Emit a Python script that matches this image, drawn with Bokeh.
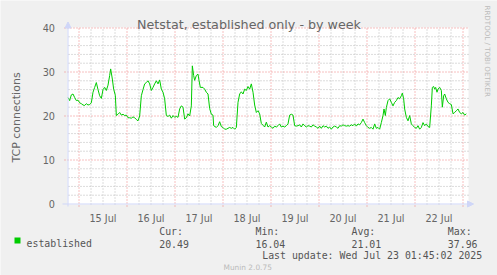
from math import pi
from bokeh.plotting import figure
from bokeh.models import Range1d, FixedTicker, Label, Arrow, NormalHead, BoxAnnotation
from bokeh.embed import file_html
from bokeh.resources import INLINE

# ---- data (hours since 15 Jul 00:00) ----
hours = [-5.5, -4.67, -3.83, -3.0, -2.17, -1.33, -0.5, 0.33, 1.17, 2.0, 2.83, 3.67, 4.5, 5.33,
         6.17, 7.0, 7.83, 8.67, 9.5, 10.33, 11.17, 12.0, 12.83, 13.67, 14.5, 15.33, 15.83, 16.67,
         17.33, 18.17, 18.67, 19.5, 20.33, 21.17, 22.0, 22.83, 23.67, 24.5, 25.33, 26.17, 27.0,
         27.83, 28.67, 29.5, 30.33, 31.17, 32.0, 32.83, 33.67, 34.5, 35.33, 36.17, 37.0, 37.83,
         38.67, 39.5, 40.33, 41.17, 42.0, 42.83, 43.67,
         44.5, 45.33, 46.17, 47.0, 47.83, 48.67, 49.5, 50.33, 51.17, 52.0, 52.83, 53.67, 54.5,
         55.33, 56.17, 56.67, 57.33, 57.83, 58.67, 59.5, 60.0, 60.67, 62.0, 62.83, 63.67, 64.5,
         65.33, 66.17, 67.0, 67.33, 68.67, 69.5, 70.33, 71.17, 72.0, 72.83, 73.67, 74.5, 75.33,
         76.17, 77.0, 77.83, 78.67, 79.5, 80.33, 81.17, 82.0, 82.83, 83.67, 84.5, 85.33, 86.17,
         87.0, 87.83, 88.67, 89.5, 90.33, 91.17, 92.0, 92.83, 93.67,
         94.5, 95.33, 96.17, 97.0, 97.83, 98.67, 99.5, 100.33, 101.17, 102.0, 102.83, 103.67,
         104.5, 105.33, 106.17, 107.0, 107.83, 108.67, 109.5, 110.33, 111.17, 112.0, 112.83,
         113.67, 114.5, 115.33, 116.17, 117.0, 117.83, 118.67, 119.5, 120.33, 121.17, 122.0,
         122.83, 123.67, 124.5, 125.33, 126.17, 127.0, 127.83, 128.67, 129.5, 130.33, 131.17,
         132.0, 132.83, 133.67, 134.5, 135.33, 136.17, 137.0, 137.83, 138.67, 139.5, 140.33,
         141.17, 142.0, 142.83, 143.67,
         144.5, 145.33, 146.17, 147.0, 147.83, 148.67, 149.5, 150.33, 151.17, 152.0, 152.5,
         153.17, 153.67, 154.5, 155.33, 156.17, 157.0, 157.83, 158.67, 159.5, 160.33, 161.17,
         161.67, 162.33, 162.83, 163.67, 164.5, 165.33, 166.17, 167.0, 167.83, 168.67, 169.5,
         170.33, 171.17, 172.0, 172.83, 173.67, 174.5, 175.33, 176.17, 176.67, 177.33, 177.83,
         178.33, 179.0, 179.5, 180.33, 181.17, 181.67, 182.33, 182.83, 183.67, 184.5, 185.33,
         186.17, 187.0, 187.83, 188.67, 189.5, 190.33, 191.17, 192.0, 192.83, 193.67]

established = [24.2, 23.5, 24.8, 25.0, 24.2, 23.5, 23.6, 23.0, 22.8, 22.5, 22.4, 22.8, 22.5, 22.6,
               23.0, 25.4, 26.5, 27.6, 26.0, 24.6, 24.0, 26.0, 26.5, 25.8, 27.0, 29.2, 30.7, 28.4,
               26.1, 24.7, 20.1, 20.4, 20.8, 20.2, 20.4, 20.1, 20.2, 19.6, 19.6, 19.5, 19.8,
               19.6, 19.2, 18.9, 20.0, 24.6, 26.0, 27.3, 27.6, 28.0, 27.3, 25.8, 26.5, 27.3,
               28.0, 27.3, 28.2, 26.1, 25.4, 23.9, 20.1,
               19.9, 20.2, 19.5, 20.1, 19.7, 19.9, 19.7, 21.6, 22.3, 22.0, 19.3, 19.6, 20.5,
               20.0, 22.3, 31.4, 29.2, 28.1, 29.2, 29.5, 28.1, 26.5, 26.5, 26.1, 25.4, 25.0,
               21.7, 20.4, 20.2, 17.8, 17.4, 17.8, 18.7, 17.6, 17.4, 17.0, 17.0, 17.2, 17.4,
               17.2, 17.4, 17.0, 17.4, 23.1, 25.0, 25.5, 25.0, 26.1, 25.8, 26.7, 26.1, 27.3,
               25.4, 22.5, 20.8, 21.2, 20.5, 18.3, 17.9, 17.5, 18.6,
               17.5, 17.8, 17.5, 17.2, 17.7, 17.5, 17.8, 18.2, 17.5, 17.7, 17.5, 17.8,
               18.2, 20.2, 20.4, 20.2, 17.8, 17.7, 17.8, 18.0, 17.5, 18.2, 17.8,
               17.5, 17.8, 17.7, 17.5, 18.0, 17.7, 17.5, 17.2, 17.7, 17.2, 17.8,
               17.5, 17.7, 17.2, 17.5, 17.0, 17.5, 17.7, 17.5, 17.2, 17.8, 17.7,
               18.0, 17.8, 17.7, 17.8, 17.7, 18.0, 17.8, 18.2, 17.7, 18.2, 18.0,
               18.5, 19.3, 18.5, 17.8,
               17.4, 17.2, 17.4, 17.0, 18.2, 17.2, 17.4, 17.0, 18.5, 20.1, 21.6,
               20.1, 21.9, 23.5, 23.9, 23.1, 22.3, 23.1, 23.5, 24.2, 23.9, 24.6,
               25.2, 23.9, 21.6, 19.7, 18.9, 20.1, 18.2, 17.8, 17.4, 17.2, 17.8,
               17.0, 17.4, 18.5, 17.8, 18.2, 17.6, 17.4, 22.3, 26.5, 26.7, 26.1,
               26.5, 25.4, 26.1, 26.5, 25.8, 22.0, 24.6, 25.0, 23.9, 23.1, 22.8,
               22.6, 20.5, 20.8, 21.2, 21.6, 20.8, 20.5, 20.8, 20.2, 20.5]

day_labels = ["15 Jul", "16 Jul", "17 Jul", "18 Jul", "19 Jul", "20 Jul", "21 Jul", "22 Jul"]
label_hours = [12, 36, 60, 84, 108, 132, 156, 180]
midnight_hours = [0, 24, 48, 72, 96, 120, 144, 168, 192]
six_hours = [h for h in range(-6, 196, 6) if h % 24 != 0 and -5.5 < h < 194.5]
y_ticks = [0, 10, 20, 30, 40]
y_minor = [v for v in range(2, 40, 2) if v % 10 != 0]

title_text = "Netstat, established only - by week"
y_label = "TCP connections"
series_name = "established"
stat_names = ["Cur:", "Min:", "Avg:", "Max:"]
stat_values = ["20.49", "16.04", "21.01", "37.96"]
last_update = "Last update: Wed Jul 23 01:45:02 2025"
watermark = "RRDTOOL / TOBI OETIKER"
version = "Munin 2.0.75"

# ---- layout: whole canvas is the frame; plot area ~ x 67..467, y 27..203 ----
# data values land on pixel centres (X.5) so 1px lines stay crisp
W, H = 497, 275
X0, XMIN, XMAX, PXH = 67.5, -5.5, 194.5, 2.0
YB, YMIN, YMAX, PXV = 203.5, 0, 40, 4.4


def cx(X):
    return XMIN + (X - X0) / PXH


def cy(Y):
    return (YB - Y) / PXV


TXT = "#666666"
p = figure(width=W, height=H, title=None,
           x_range=Range1d(cx(0), cx(W)), y_range=Range1d(cy(H), cy(0)),
           output_backend="svg", toolbar_location=None, min_border=0,
           background_fill_color="#F0F0F0", border_fill_color="#F0F0F0",
           outline_line_color=None)
p.xgrid.visible = False
p.ygrid.visible = False

# white canvas of the plot area
p.add_layout(BoxAnnotation(left=cx(67), right=cx(468), bottom=cy(204), top=cy(27),
                           fill_color="#FFFFFF", fill_alpha=1.0, line_color=None,
                           level="image"))

# grid (dotted): minor gray, major red with small outside ticks
GRID = dict(line_width=1, line_dash="1 2")
nv, nh = len(six_hours), len(y_minor)
p.segment(x0=six_hours, y0=[cy(204)] * nv, x1=six_hours, y1=[cy(27)] * nv,
          line_color="#B8B8B8", **GRID)
p.segment(x0=[cx(68)] * nh, y0=y_minor, x1=[cx(468)] * nh, y1=y_minor,
          line_color="#B8B8B8", **GRID)
nm_ = len(midnight_hours)
p.segment(x0=midnight_hours, y0=[cy(206)] * nm_, x1=midnight_hours, y1=[cy(27)] * nm_,
          line_color="#EE8080", **GRID)
p.segment(x0=[cx(64)] * 4, y0=y_ticks[1:], x1=[cx(468)] * 4, y1=y_ticks[1:],
          line_color="#EE8080", **GRID)

p.line(hours, established, line_color="#00CC00", line_width=1)

# axes drawn at fixed locations inside the full-canvas frame
ax = p.xaxis[0]
ax.fixed_location = YMIN
ax.bounds = (XMIN, XMAX)
ax.ticker = FixedTicker(ticks=label_hours)
ax.major_label_overrides = {h: lab for h, lab in zip(label_hours, day_labels)}
ax.axis_line_color = None
ax.major_tick_line_color = None
ax.minor_tick_line_color = None
ax.major_label_standoff = 3
ax.major_label_text_font = "DejaVu Sans"
ax.major_label_text_font_size = "9.7px"
ax.major_label_text_color = TXT

ay = p.yaxis[0]
ay.fixed_location = XMIN
ay.bounds = (YMIN, YMAX)
ay.ticker = FixedTicker(ticks=y_ticks)
ay.axis_line_color = None
ay.major_tick_line_color = None
ay.minor_tick_line_color = None
ay.major_label_standoff = 7
ay.major_label_text_font = "DejaVu Sans"
ay.major_label_text_font_size = "9.7px"
ay.major_label_text_color = TXT

AX = "#CFD6F8"
p.add_layout(Arrow(end=NormalHead(size=6, fill_color=AX, line_color=AX),
                   x_start=cx(62), y_start=YMIN, x_end=cx(473), y_end=YMIN,
                   line_color=AX, line_width=1))
p.add_layout(Arrow(end=NormalHead(size=6, fill_color=AX, line_color=AX),
                   x_start=XMIN, y_start=cy(206), x_end=XMIN, y_end=cy(21.5),
                   line_color=AX, line_width=1))

p.add_layout(Label(x=cx(248.5), y=cy(24), text=title_text, text_align="center",
                   text_baseline="alphabetic", text_font="DejaVu Sans",
                   text_font_size="12.7px", text_color=TXT))
p.add_layout(Label(x=cx(16), y=cy(117), text=y_label, angle=pi / 2, text_align="center",
                   text_baseline="alphabetic", text_font="DejaVu Sans",
                   text_font_size="11px", text_color=TXT))
p.add_layout(Label(x=cx(486.5), y=cy(5), text=watermark, angle=-pi / 2, text_align="left",
                   text_baseline="alphabetic", text_font="DejaVu Sans",
                   text_font_size="7.1px", text_color="#BBBBBB"))
p.add_layout(Label(x=cx(223), y=cy(266.7), text=version, text_align="left",
                   text_baseline="alphabetic", text_font="DejaVu Sans",
                   text_font_size="7.4px", text_color="#BBBBBB"))

p.add_layout(BoxAnnotation(left=cx(14), right=cx(20), top=cy(237), bottom=cy(243),
                           fill_color="#00CC00", fill_alpha=1.0, line_color=None))
MONO = dict(text_font="DejaVu Sans Mono", text_font_size="9.9px", text_color="#555555",
            text_align="left", text_baseline="alphabetic")
p.add_layout(Label(x=cx(26), y=cy(243.3), text=series_name, **MONO))
for xs, nm, vl in zip([158.7, 255, 351, 447.3], stat_names, stat_values):
    p.add_layout(Label(x=cx(xs), y=cy(230.7), text=nm, **MONO))
    p.add_layout(Label(x=cx(xs), y=cy(243.3), text=vl, **MONO))
p.add_layout(Label(x=cx(261.7), y=cy(255), text=last_update, **MONO))

open("out.html", "w").write(file_html(p, INLINE))
